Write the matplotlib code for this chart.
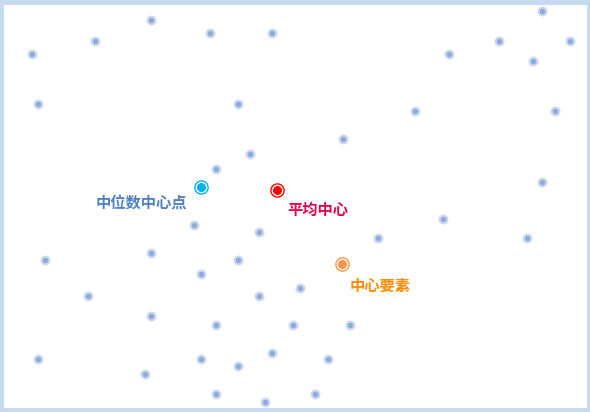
import matplotlib.pyplot as plt
from matplotlib.patches import Rectangle

plt.rcParams["font.family"] = ["Noto Sans CJK SC", "DejaVu Sans"]

# ── Daten (Pixelkoordinaten im Bild) ─────────────────────────────────────────
pts_x = [151, 542, 95, 210, 272, 32, 449, 499, 570, 533, 38, 238, 415, 555,
         343, 250, 216, 542, 443, 194, 259, 378, 527, 45, 151, 238, 201, 300,
         88, 259, 151, 216, 293, 350, 38, 201, 272, 328, 238, 145, 216, 265, 315]
pts_y = [20, 11, 41, 33, 33, 54, 54, 41, 41, 61, 104, 104, 111, 111,
         139, 154, 169, 182, 219, 225, 232, 238, 238, 260, 253, 260, 274, 288,
         296, 296, 316, 325, 325, 325, 359, 359, 353, 359, 366, 374, 394, 402, 394]

centers = ["中位数中心点", "平均中心", "中心要素"]
center_x = [201, 277, 342]
center_y = [187, 190, 264]
center_colors = ["#00b0f0", "#ff0000", "#f79646"]
label_colors = ["#4f81bd", "#e3004f", "#ff8c00"]
label_x = [96, 287, 350]
label_y = [204, 210, 286]

# ── Figure ───────────────────────────────────────────────────────────────────
fig = plt.figure(figsize=(5.9, 4.12), dpi=100)
ax = fig.add_axes([0, 0, 1, 1])
ax.set_xlim(0, 590)
ax.set_ylim(412, 0)
ax.axis("off")

# Rahmen
fig.patches.append(Rectangle((0.0025, 0.004), 0.995, 0.992, transform=fig.transFigure,
                             fill=False, edgecolor="#c6d9f1", linewidth=3.5))

ax.plot(pts_x, pts_y, linestyle="", marker="o", ms=5.5,
        mfc="#8eaadb", mec="#c9d8ee", mew=1.6, zorder=2)

for cx, cy, c in zip(center_x, center_y, center_colors):
    ax.plot(cx, cy, marker="o", ms=9.5, mfc="white", mec=c, mew=1.0, zorder=3)
    ax.plot(cx, cy, marker="o", ms=6.5, mfc=c, mec=c, mew=0, zorder=4)

for t, lx, ly, c in zip(centers, label_x, label_y, label_colors):
    ax.text(lx, ly, t, color=c, fontsize=11, fontweight="bold",
            ha="left", va="center", zorder=5)

fig.savefig("out.png", dpi=100)
